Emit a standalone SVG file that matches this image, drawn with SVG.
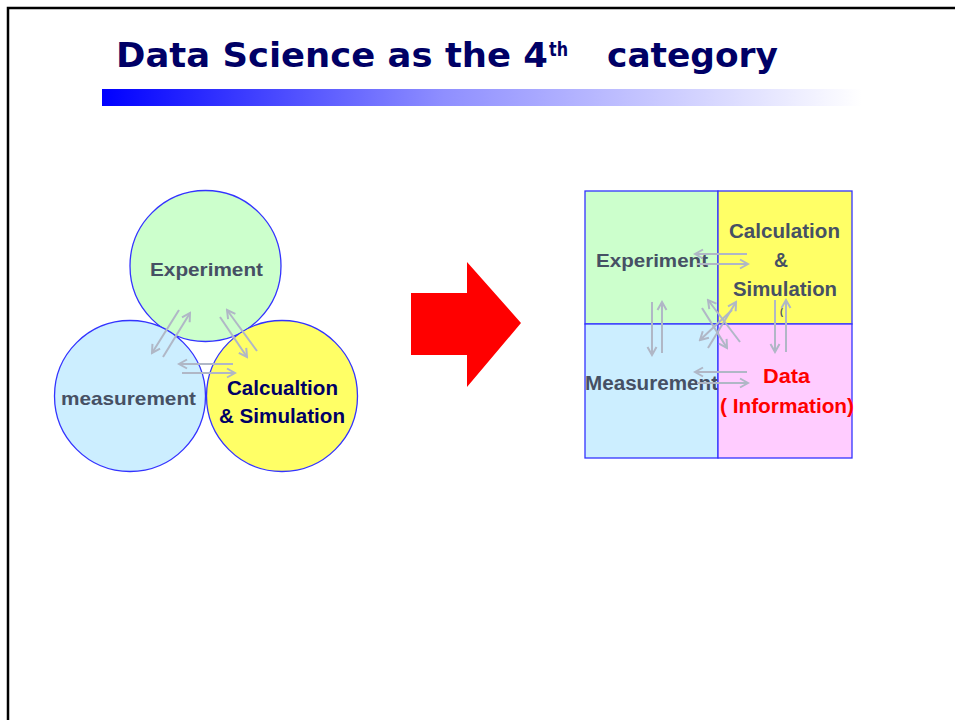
<svg xmlns="http://www.w3.org/2000/svg" width="955" height="720" viewBox="0 0 955 720">
<defs>
<linearGradient id="bar" x1="0" y1="0" x2="1" y2="0">
<stop offset="0" stop-color="#0000ff"/>
<stop offset="0.45" stop-color="#8f8fff"/>
<stop offset="1" stop-color="#ffffff"/>
</linearGradient>
<marker id="ah" markerUnits="userSpaceOnUse" markerWidth="12" markerHeight="12" viewBox="0 0 12 12" refX="10" refY="6" orient="auto">
<path d="M2,1.5 L10,6 L2,10.5" fill="none" stroke="#b0b7c6" stroke-width="2"/>
</marker>
</defs>
<style>
.frame{fill:none;stroke:#000;stroke-width:2.5}
.title{font-family:"DejaVu Sans",Verdana,sans-serif;font-weight:bold;fill:#000066}
.node{stroke:#3333ff;stroke-width:1.3}
.lbl{font-family:"Liberation Sans",Arial,sans-serif;font-weight:bold;fill:#465064;text-anchor:start}
.navy{fill:#000066}
.red{fill:#ff0000}
.conn line{stroke:#b0b7c6;stroke-width:2;marker-end:url(#ah)}
</style>
<rect x="0" y="0" width="955" height="720" fill="#ffffff"/>
<path class="frame" d="M8,722 L8,8 L957,8"/>
<text class="title" x="116" y="67" font-size="34" textLength="432" lengthAdjust="spacingAndGlyphs">Data Science as the 4</text>
<text class="title" x="549" y="56" font-size="20" textLength="19" lengthAdjust="spacingAndGlyphs">th</text>
<text class="title" x="607" y="67" font-size="34" textLength="171" lengthAdjust="spacingAndGlyphs">category</text>
<rect x="102" y="89" width="760" height="17" fill="url(#bar)"/>

<g id="circle-experiment">
<circle class="node" cx="205.5" cy="266" r="75.5" fill="#ccffcc"/>
<text class="lbl" x="150" y="276" font-size="19" textLength="113" lengthAdjust="spacingAndGlyphs">Experiment</text>
</g>
<g id="circle-measurement">
<circle class="node" cx="130" cy="396" r="75.5" fill="#cceeff"/>
<text class="lbl" x="61" y="405" font-size="19" textLength="135" lengthAdjust="spacingAndGlyphs">measurement</text>
</g>
<g id="circle-calculation">
<circle class="node" cx="282" cy="396" r="75.5" fill="#ffff66"/>
<text class="lbl navy" x="227" y="395" font-size="21" textLength="111" lengthAdjust="spacingAndGlyphs">Calcualtion</text>
<text class="lbl navy" x="219" y="423" font-size="21" textLength="126" lengthAdjust="spacingAndGlyphs">&amp; Simulation</text>
</g>

<g id="big-arrow">
<polygon points="411,293 467,293 467,262 521,323 467,387 467,355 411,355" fill="#ff0000"/>
</g>

<g id="cell-experiment">
<rect class="node" x="585" y="191" width="133" height="133" fill="#ccffcc"/>
<text class="lbl" x="596" y="267" font-size="19" textLength="112" lengthAdjust="spacingAndGlyphs">Experiment</text>
</g>
<g id="cell-calculation">
<rect class="node" x="718" y="191" width="134" height="133" fill="#ffff66"/>
<text class="lbl" x="729" y="238" font-size="21" textLength="111" lengthAdjust="spacingAndGlyphs">Calculation</text>
<text class="lbl" x="774" y="267" font-size="21" textLength="14" lengthAdjust="spacingAndGlyphs">&amp;</text>
<text class="lbl" x="733" y="296" font-size="21" textLength="104" lengthAdjust="spacingAndGlyphs">Simulation</text>
<text class="lbl" x="780" y="315" font-size="9">(</text>
</g>
<g id="cell-measurement">
<rect class="node" x="585" y="324" width="133" height="134" fill="#cceeff"/>
<text class="lbl" x="585" y="390" font-size="20" textLength="133" lengthAdjust="spacingAndGlyphs">Measurement</text>
</g>
<g id="cell-data">
<rect class="node" x="718" y="324" width="134" height="134" fill="#ffccff"/>
<text class="lbl red" x="763" y="383" font-size="20" textLength="47" lengthAdjust="spacingAndGlyphs">Data</text>
<text class="lbl red" x="720" y="413" font-size="20" textLength="134" lengthAdjust="spacingAndGlyphs">( Information)</text>
</g>

<g id="connectors" class="conn">
<line x1="179" y1="310" x2="152" y2="353"/>
<line x1="163" y1="357" x2="190" y2="313"/>
<line x1="220" y1="317" x2="247" y2="357"/>
<line x1="257" y1="351" x2="227" y2="310"/>
<line x1="233" y1="364" x2="179" y2="364"/>
<line x1="182" y1="373" x2="235" y2="373"/>

<line x1="747" y1="254" x2="695" y2="254"/>
<line x1="697" y1="264" x2="748" y2="264"/>
<line x1="747" y1="372" x2="695" y2="372"/>
<line x1="697" y1="383" x2="748" y2="383"/>
<line x1="652" y1="302" x2="652" y2="355"/>
<line x1="662" y1="353" x2="662" y2="302"/>
<line x1="775" y1="300" x2="775" y2="352"/>
<line x1="786" y1="352" x2="786" y2="300"/>
<line x1="740" y1="342" x2="708" y2="300"/>
<line x1="702" y1="308" x2="727" y2="348"/>
<line x1="708" y1="348" x2="736" y2="302"/>
<line x1="732" y1="310" x2="700" y2="340"/>
</g>
</svg>
